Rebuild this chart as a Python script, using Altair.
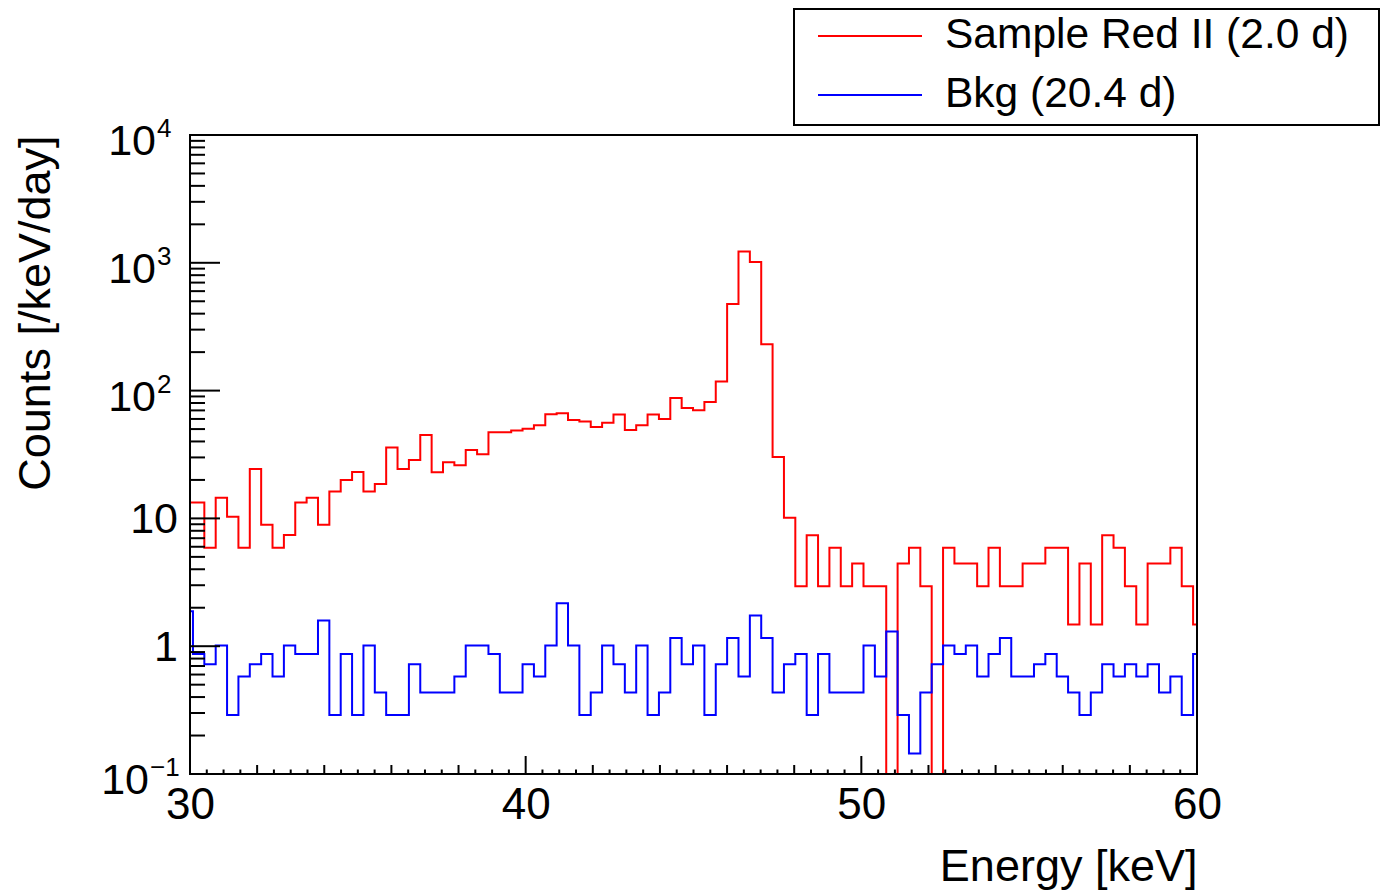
import altair as alt
import pandas as pd

FONT = "Liberation Sans"

series_names = ["Sample Red II (2.0 d)", "Bkg (20.4 d)"]
series_colors = ["#ff0000", "#0000ff"]

# histogram binning (keV): edge of the first full bin and bin width
bin_first_edge = 30.427
bin_width = 0.33858
x_min, x_max = 30, 60
y_min, y_max = 0.1, 1e4

# rates in counts /keV/day, one value per bin (first and last bins are clipped by the frame)
red_rate = [13.3, 13.3, 5.9, 14.5, 10.3, 5.9, 24.4, 8.9, 5.9, 7.4,
            13.3, 14.5, 8.9, 16.2, 20.0, 23.1, 16.2, 18.6, 35.9, 24.4,
            28.7, 45.0, 23.0, 27.5, 26.0, 34.3, 31.8, 47.2, 47.2, 48.8,
            50.3, 53.6, 65.2, 66.5, 58.9, 57.4, 51.9, 56.0, 65.0, 49.1,
            53.6, 65.0, 60.0, 87.7, 73.0, 70.3, 81.3, 118, 475, 1224,
            1014, 230, 30.2, 10.1, 2.95, 7.38, 2.95, 5.9, 2.95, 4.43,
            2.95, 2.95, 0, 4.43, 5.9, 2.95, 0, 5.9, 4.43, 4.43,
            2.95, 5.9, 2.95, 2.95, 4.43, 4.43, 5.9, 5.9, 1.48, 4.43,
            1.48, 7.38, 5.9, 2.95, 1.48, 4.43, 4.43, 5.9, 2.95, 1.48]

bkg_rate = [1.881, 0.868, 0.724, 1.013, 0.289, 0.579, 0.724, 0.868, 0.579, 1.013,
            0.868, 0.868, 1.592, 0.289, 0.868, 0.289, 1.013, 0.434, 0.289, 0.289,
            0.724, 0.434, 0.434, 0.434, 0.579, 1.013, 1.013, 0.868, 0.434, 0.434,
            0.724, 0.579, 1.013, 2.171, 1.013, 0.289, 0.434, 1.013, 0.724, 0.434,
            1.013, 0.289, 0.434, 1.158, 0.724, 1.013, 0.289, 0.724, 1.158, 0.579,
            1.736, 1.158, 0.434, 0.724, 0.868, 0.289, 0.868, 0.434, 0.434, 0.434,
            1.013, 0.579, 1.302, 0.289, 0.145, 0.434, 0.724, 1.013, 0.868, 1.013,
            0.579, 0.868, 1.158, 0.579, 0.579, 0.724, 0.868, 0.579, 0.434, 0.289,
            0.434, 0.724, 0.579, 0.724, 0.579, 0.724, 0.434, 0.579, 0.289, 0.868]

x_labels = [30, 40, 50, 60]
x_major_ticks = [30, 40, 50, 60]
x_mid_ticks = [v for v in range(32, 60, 2) if v % 10 != 0]
x_minor_ticks = [30 + 0.5 * i for i in range(61) if (30 + 0.5 * i) % 2 != 0]
y_major_ticks = [0.1, 1, 10, 100, 1000, 10000]
y_minor_ticks = [m * 10.0 ** d for d in range(-1, 4) for m in range(2, 10)]


def step_table(rates, name):
    rows = []
    for i, r in enumerate(rates):
        lo = bin_first_edge + (i - 2) * bin_width
        rows.append({"E": max(lo, x_min), "rate": r if r > 0 else y_min, "series": name})
    rows.append({"E": x_max, "rate": rows[-1]["rate"], "series": name})
    return pd.DataFrame(rows)


red_df = step_table(red_rate, series_names[0])
bkg_df = step_table(bkg_rate, series_names[1])

W, H = 1007, 639

xscale = alt.Scale(domain=[x_min, x_max], nice=False, zero=False)
yscale = alt.Scale(type="log", domain=[y_min, y_max], nice=False)

x_axis = alt.Axis(values=x_labels, labelFontSize=44, labelFont=FONT, labelColor="black",
                  labelBaseline="alphabetic", labelPadding=44, labelFlush=False,
                  labelOverlap=False, ticks=False, tickSize=0, domain=False, grid=False,
                  title="Energy [keV]", titleFont=FONT, titleFontSize=45,
                  titleFontWeight="normal", titleColor="black", titleAlign="right",
                  titleBaseline="alphabetic", titleX=W, titleY=106, titleAngle=0)
y_axis = alt.Axis(labels=False, ticks=False, tickSize=0, domain=False, grid=False,
                  title="Counts [/keV/day]", titleFont=FONT, titleFontSize=45,
                  titleFontWeight="normal", titleColor="black", titleAngle=-90,
                  titleAlign="right", titleBaseline="alphabetic", titleX=-141, titleY=0)

red_line = alt.Chart(red_df).mark_line(
    interpolate="step-after", clip=True, strokeWidth=2, color=series_colors[0]
).encode(
    x=alt.X("E:Q", scale=xscale, axis=x_axis),
    y=alt.Y("rate:Q", scale=yscale, axis=y_axis),
)
bkg_line = alt.Chart(bkg_df).mark_line(
    interpolate="step-after", clip=True, strokeWidth=2, color=series_colors[1]
).encode(
    x=alt.X("E:Q", scale=xscale),
    y=alt.Y("rate:Q", scale=yscale),
)

# plot frame
frame = alt.Chart(pd.DataFrame({"v": [0]})).mark_rect(
    fill=None, stroke="black", strokeWidth=2
).encode(x=alt.value(0), x2=alt.value(W), y=alt.value(0), y2=alt.value(H))


# ticks drawn inside the frame
def yticks(vals, length):
    return alt.Chart(pd.DataFrame({"v": vals})).mark_rule(color="black", strokeWidth=2).encode(
        y=alt.Y("v:Q", scale=yscale), x=alt.value(0), x2=alt.value(length))


def xticks(vals, length):
    return alt.Chart(pd.DataFrame({"v": vals})).mark_rule(color="black", strokeWidth=2).encode(
        x=alt.X("v:Q", scale=xscale), y=alt.value(H), y2=alt.value(H - length))


tick_layers = [yticks(y_major_ticks, 30), yticks(y_minor_ticks, 15),
               xticks(x_major_ticks, 18), xticks(x_mid_ticks, 9), xticks(x_minor_ticks, 4.5)]

# y tick labels with superscript exponents
exp_df = pd.DataFrame({"v": [10000, 1000, 100], "base": ["10"] * 3, "exp": ["4", "3", "2"]})
plain_df = pd.DataFrame({"v": [10, 1], "base": ["10", "1"]})
neg_df = pd.DataFrame({"v": [0.1], "base": ["10"], "exp": ["\u22121"]})


def label_layer(df, field, xpx, align, size, dy):
    return alt.Chart(df).mark_text(align=align, baseline="alphabetic", font=FONT,
                                   fontSize=size, color="black", dy=dy).encode(
        y=alt.Y("v:Q", scale=yscale), x=alt.value(xpx), text=f"{field}:N")


label_layers = [
    label_layer(plain_df, "base", -12, "right", 43, 15),
    label_layer(exp_df, "base", -34, "right", 43, 20),
    label_layer(exp_df, "exp", -33, "left", 26, 2),
    label_layer(neg_df, "base", -41, "right", 43, 20),
    label_layer(neg_df, "exp", -40, "left", 26, 2),
]

# legend box
legend_box = alt.Chart(pd.DataFrame({"name": series_names[:1]})).mark_rect(
    fill="white", stroke="black", strokeWidth=2
).encode(x=alt.value(604), x2=alt.value(1189), y=alt.value(-126), y2=alt.value(-10))
legend_parts = [legend_box]
for i, (name, col) in enumerate(zip(series_names, series_colors)):
    ly = -99 + 59 * i
    legend_parts.append(
        alt.Chart(pd.DataFrame({"name": [name]})).mark_rule(color=col, strokeWidth=2).encode(
            x=alt.value(628), x2=alt.value(732), y=alt.value(ly)))
    legend_parts.append(
        alt.Chart(pd.DataFrame({"name": [name]})).mark_text(
            align="left", baseline="alphabetic", font=FONT, fontSize=42.5, color="black"
        ).encode(x=alt.value(755), y=alt.value(ly + 12), text="name:N"))

chart = alt.layer(red_line, bkg_line, frame, *tick_layers, *label_layers, *legend_parts).properties(
    width=W, height=H,
    autosize=alt.AutoSizeParams(type="none"),
    padding={"left": 182, "top": 127, "right": 184, "bottom": 116},
).configure_view(stroke=None)

chart.save("out.html", embed_options={"renderer": "svg", "actions": False})
